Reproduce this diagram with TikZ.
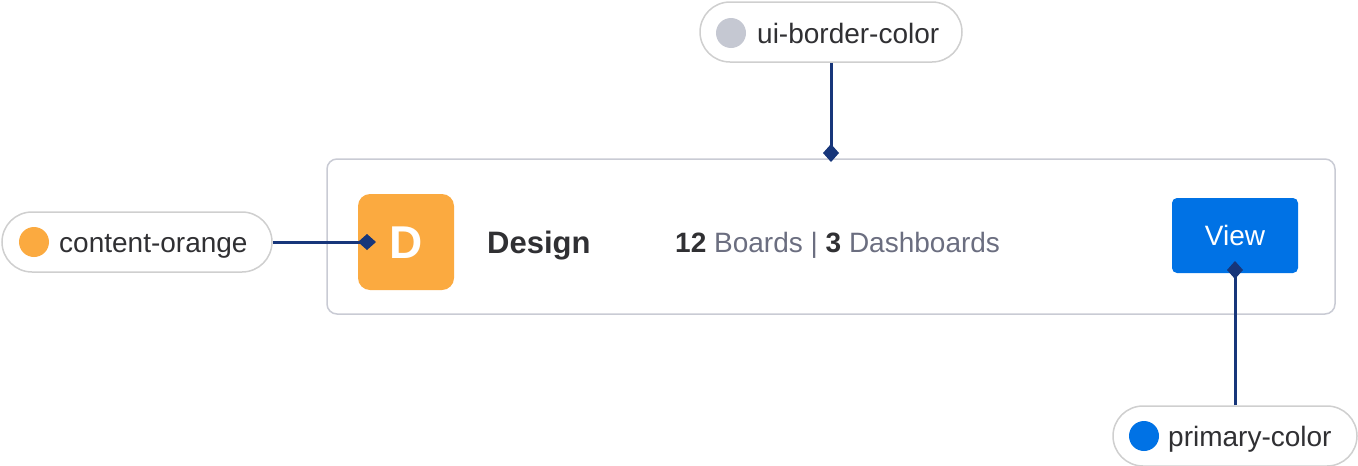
\documentclass[tikz,border=0pt]{standalone}
\usepackage{fontspec}
\setmainfont{Liberation Sans}
\usetikzlibrary{arrows.meta}

\definecolor{cardline}{HTML}{C9CBD4}
\definecolor{pillline}{HTML}{CFCFCF}
\definecolor{tileorange}{HTML}{FBAA40}
\definecolor{primaryblue}{HTML}{0072E5}
\definecolor{navy}{HTML}{17367A}
\definecolor{graydot}{HTML}{C5C8D2}
\definecolor{ink}{HTML}{303033}
\definecolor{muted}{HTML}{6B6E80}

\tikzset{
  pill/.style={draw=pillline, line width=1.5pt, rounded corners=30pt, fill=white, inner sep=0pt, minimum height=60pt},
  swatch/.style={circle, inner sep=0pt, minimum size=30pt},
  tagtext/.style={anchor=west, inner sep=0pt, text height=20pt, text depth=0pt, text=ink, font=\fontsize{28}{32}\selectfont},
  link/.style={draw=navy, line width=3pt, -{Diamond[length=18pt,width=16pt]}}
}

\begin{document}
\begin{tikzpicture} [x=1pt,y=-1pt]

\useasboundingbox (0,0) rectangle (1358,466);

% card
\node (card) [draw=cardline, line width=1.5pt, rounded corners=10pt, minimum width=1008pt, minimum height=155pt, inner sep=0pt] at (831,236.5) {};
\node (tile) [fill=tileorange, rounded corners=12pt, minimum size=96pt, inner sep=0pt, text=white, text height=33pt, text depth=0pt, font=\bfseries\fontsize{46}{50}\selectfont] at (406,242) {D};
\node (title) [tagtext, text height=22.3pt, font=\bfseries\fontsize{31}{36}\selectfont] at (487,242) {Design};
\node (stats) [tagtext, text=muted] at (675,242) {\textbf{\color{ink}12} Boards | \textbf{\color{ink}3} Dashboards};
\node (viewBtn) [fill=primaryblue, rounded corners=5pt, minimum width=126pt, minimum height=75pt, inner sep=0pt, text=white, text height=20pt, text depth=0pt, font=\fontsize{28}{32}\selectfont] at (1235,235.5) {View};

% tags
\node (uiPill) [pill, minimum width=262pt] at (831,32) {};
\node (uiDot) [swatch, fill=graydot] at (731,33) {};
\node (uiText) [tagtext] at (757,33) {ui-border-color};

\node (orangePill) [pill, minimum width=270pt] at (137,242) {};
\node (orangeDot) [swatch, fill=tileorange] at (34,242) {};
\node (orangeText) [tagtext] at (59,242) {content-orange};

\node (primaryPill) [pill, minimum width=244pt] at (1235,436) {};
\node (primaryDot) [swatch, fill=primaryblue] at (1144,436) {};
\node (primaryText) [tagtext] at (1168,436) {primary-color};

% connectors
\coordinate (cardTop) at (831,162);
\coordinate (tileMark) at (376,242);
\coordinate (viewMark) at (1235,261);
\draw [link] (uiPill.south) -- (cardTop);
\draw [link] (orangePill.east) -- (tileMark);
\draw [link] (primaryPill.north) -- (viewMark);

\end{tikzpicture}
\end{document}
